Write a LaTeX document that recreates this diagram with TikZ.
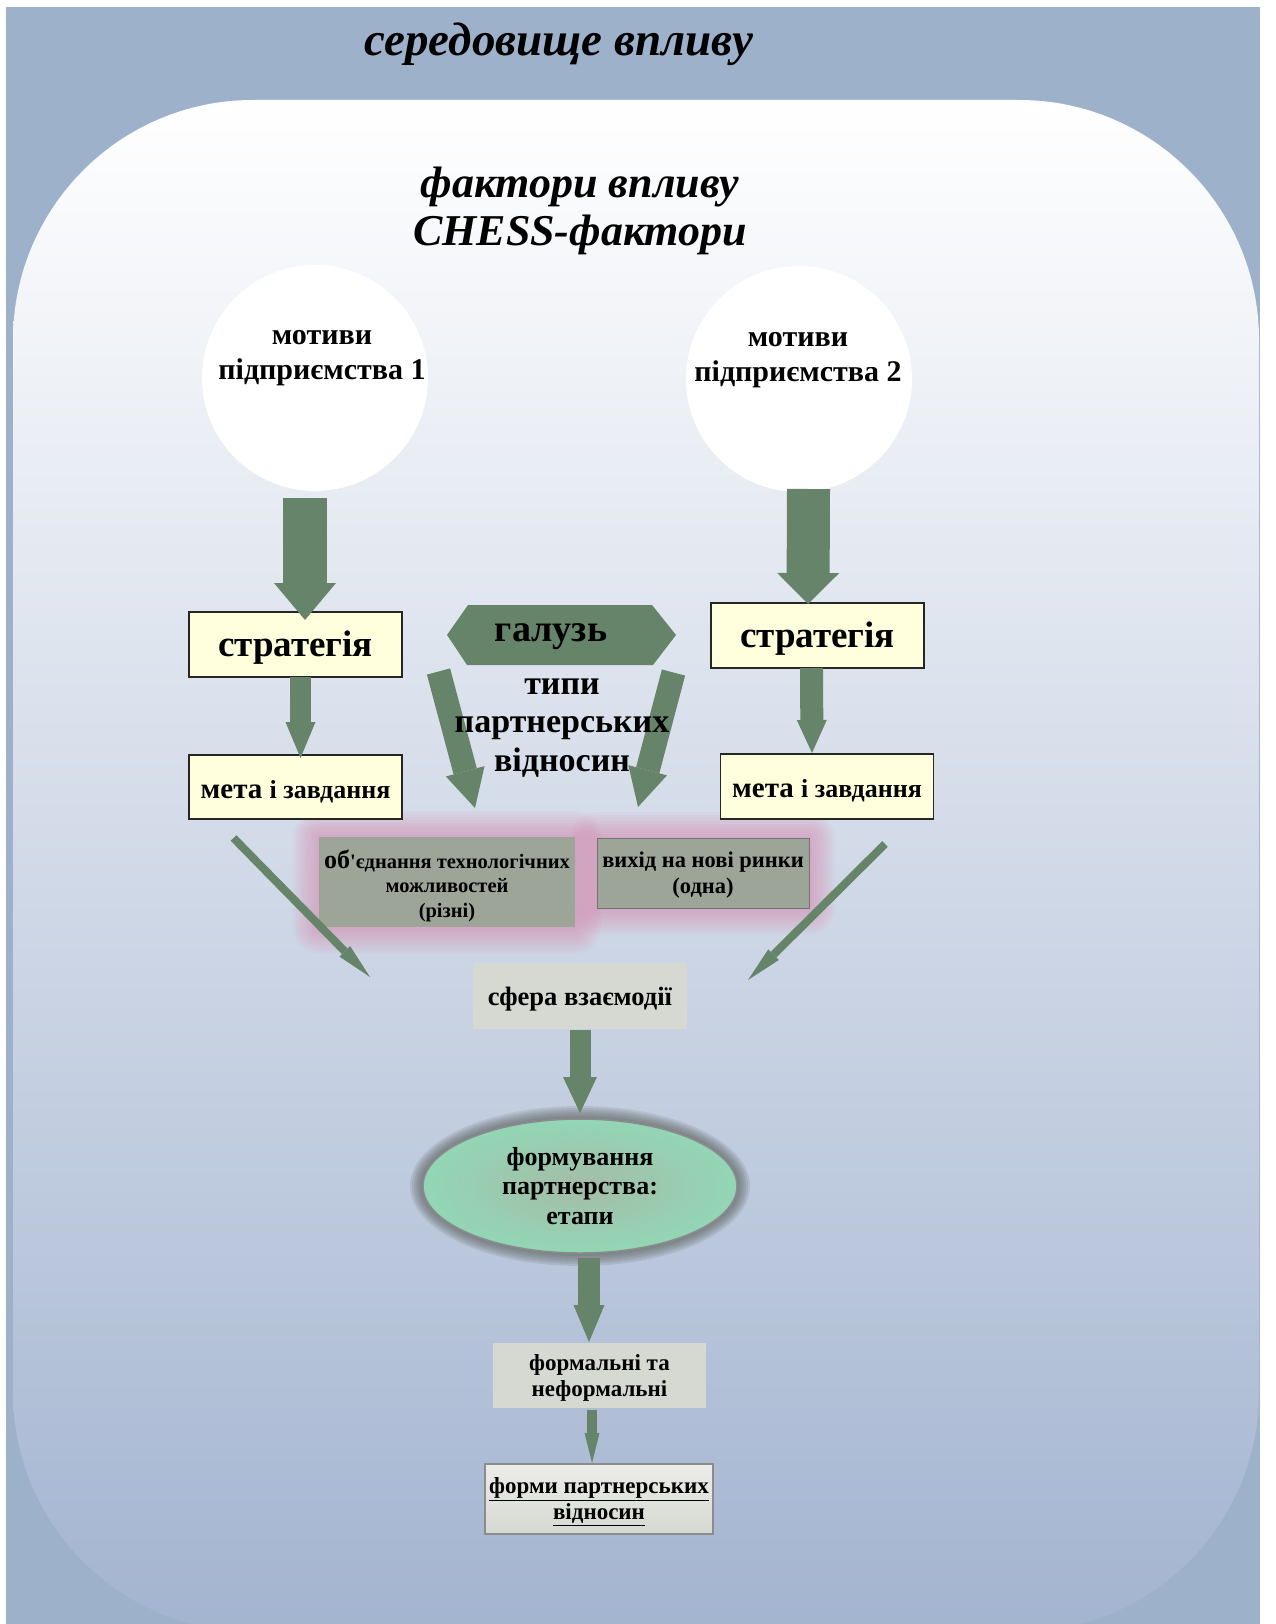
\documentclass[tikz,border=0pt]{standalone}
\usepackage{fontspec}
\setmainfont{Liberation Serif}
\usetikzlibrary{arrows.meta,calc,shapes.geometric}
\definecolor{bgblue}{RGB}{158,177,203}
\definecolor{innerbot}{RGB}{163,180,208}
\definecolor{agreen}{RGB}{102,132,106}
\definecolor{byellow}{RGB}{255,255,222}
\definecolor{bgray}{RGB}{157,164,152}
\definecolor{lgray}{RGB}{214,217,210}
\definecolor{lgraytop}{RGB}{236,237,233}
\definecolor{pinkglow}{RGB}{222,130,170}
\definecolor{mint}{RGB}{146,214,181}
\definecolor{mintc}{RGB}{165,188,168}
\definecolor{glowgray}{RGB}{90,95,90}
\pgfdeclarelayer{back}
\pgfdeclarelayer{glow}
\pgfsetlayers{back,glow,main}
\newcommand\glowbox[2]{%
  \foreach \r in {26,23,...,2}{%
    \fill[#2, opacity=0.075, rounded corners=\r pt] ($(#1.south west)+(-\r,\r)$) rectangle ($(#1.north east)+(\r,-\r)$);}}
\newcommand\dn[2]{\raisebox{-#1}[\height][\depth]{#2}}
\tikzset{
  barrow/.style n args={3}{draw=agreen, line width=#1,
    -{Triangle[width=#2, length=#3, line width=0pt, fill=agreen]}},
  ybox/.style={draw=black!85, line width=1.2pt, fill=byellow, minimum width=213pt, minimum height=65pt},
  gtxt/.style={align=center, font=\fontsize{20.5}{24.5}\selectfont\bfseries},
  lbox/.style={fill=lgray},
  bigtxt/.style={font=\fontsize{37}{42}\selectfont\bfseries},
  ctext/.style={font=\fontsize{30}{35}\selectfont\bfseries, align=center},
}
\newcommand\mfont{\fontsize{29}{32}\selectfont}
\newcommand\rfont{\fontsize{26}{32}\selectfont}
\begin{document}
\begin{tikzpicture}[x=1pt,y=-1pt, every node/.style={inner sep=0pt, outer sep=0pt}]
\useasboundingbox (0,0) rectangle (1275,1624);
\begin{pgfonlayer}{back}
  \fill[white] (0,0) rectangle (1275,1624);
  \fill[bgblue] (6,7) rectangle (1260,1624);
  \begin{scope}
    \clip (0,0) rectangle (1275,1624);
    \shade[top color=white, bottom color=innerbot, rounded corners=240pt] (13,100) rectangle (1259,1632);
  \end{scope}
\end{pgfonlayer}

% headings
\node[font=\fontsize{47}{52}\selectfont\bfseries\itshape, anchor=base] (env) at (559,56) {середовище впливу};
\node[font=\fontsize{44}{48}\selectfont\bfseries\itshape, align=center, anchor=base] (fact) at (580,245) {фактори впливу\\CHESS-фактори};

% circles
\node[circle, fill=white, minimum size=226pt] (c1) at (315,378) {};
\node[circle, fill=white, minimum size=226pt] (c2) at (799,379) {};
\node[ctext, anchor=base] (c1t) at (322,379) {мотиви\\підприємства 1};
\node[ctext, anchor=base] (c2t) at (798,381) {мотиви\\підприємства 2};

% strategy and goals boxes
\node[ybox, bigtxt] (s1) at (295.5,644.5) {\dn{3pt}{стратегія}};
\node[ybox, bigtxt] (s2) at (817.5,635.5) {\dn{3pt}{стратегія}};
\node[ybox, minimum height=64pt, font=\bfseries] (m1) at (295.5,787) {\dn{4.5pt}{\mfont мета \rfont і завдання}};
\node[ybox, font=\bfseries] (m2) at (827,786.5) {\dn{4.5pt}{\mfont мета \rfont і завдання}};

% industry hexagon
\node[minimum width=229pt, minimum height=60pt] (hex) at (561.5,635) {};
\fill[agreen] (hex.west) -- ($(hex.north west)+(21,0)$) -- ($(hex.north east)+(-24,0)$) -- (hex.east)
  -- ($(hex.south east)+(-23,0)$) -- ($(hex.south west)+(20,0)$) -- cycle;
\node[font=\fontsize{38}{40}\selectfont\bfseries, anchor=base] (galt) at (551,641) {галузь};

% gray boxes with glow
\node[fill=bgray, minimum width=256pt, minimum height=90pt] (ob) at (447,882) {};
\node[gtxt] (obt) at ($(ob.center)+(0,3.6)$)
  {{\fontsize{26}{24.5}\selectfont об}\textquotesingle єднання технологічних\\можливостей\\(різні)};
\node[fill=bgray, draw=black!55, line width=0.8pt, minimum width=212pt, minimum height=70pt] (vyh) at (703,873) {};
\node[gtxt, font=\fontsize{22.5}{26}\selectfont\bfseries] (vyht) at ($(vyh.center)+(0,2.5)$)
  {вихід на нові ринки\\(одна)};
\begin{pgfonlayer}{glow}
  \glowbox{ob}{pinkglow}
  \glowbox{vyh}{pinkglow}
\end{pgfonlayer}

% diagonal arrows from the hexagon (below the text)
\draw[barrow={24pt}{40pt}{38pt}] ($(hex.south west)+(-8.5,6.5)$) -- ($(ob.north)+(28,-29)$);
\draw[barrow={24pt}{40pt}{38pt}] ($(hex.south east)+(-2.5,7.5)$) -- ($(vyh.north)+(-65,-31)$);
\node[font=\fontsize{34}{38.5}\selectfont\bfseries, align=center, anchor=base] (types) at (562,771) {типи\\партнерських\\відносин};

% interaction sphere
\node[lbox, minimum width=214pt, minimum height=66pt, font=\fontsize{26.5}{30}\selectfont\bfseries] (sf) at (580,996) {\dn{3pt}{сфера взаємодії}};

% ellipse
\node[ellipse, minimum width=314pt, minimum height=134pt] (el) at (580,1186) {};
\begin{pgfonlayer}{glow}
  \foreach \r in {13,11,...,1}{\fill[glowgray, opacity=0.14] (el.center) ellipse [x radius=157+\r, y radius=67+\r];}
\end{pgfonlayer}
\shade[inner color=mintc, outer color=mint] (el.center) ellipse [x radius=157, y radius=67];
\draw[draw=black!45, line width=1.5pt] (el.center) ellipse [x radius=157, y radius=67];
\node[font=\fontsize{26}{29.5}\selectfont\bfseries, align=center, anchor=base] (elt) at (580,1224) {формування\\партнерства:\\етапи};

% formal / informal
\node[lbox, minimum width=213pt, minimum height=65pt] (fm) at (599.5,1375.5) {};
\node[gtxt, font=\fontsize{23}{26}\selectfont\bfseries] (fmt) at ($(fm.center)+(0,2)$) {формальні та\\неформальні};
\node[draw=black!45, line width=1.5pt, top color=lgraytop, bottom color=lgray, minimum width=228pt, minimum height=70pt] (fr) at (599,1499) {};
\node[gtxt, font=\fontsize{23}{26}\selectfont\bfseries] (frt) at ($(fr.center)+(0,2.5)$) {\underline{форми партнерських}\\\underline{відносин}};

% block arrows
\draw[barrow={44pt}{62pt}{37pt}] ($(c1.south)+(-10,7)$) -- ($(s1.north)+(9.5,8)$);
\draw[barrow={43pt}{62pt}{31pt}] ($(c2.south)+(9.5,-3)$) -- ($(s2.north)+(-9.5,1)$);
\draw[barrow={21pt}{30pt}{36pt}] ($(s1.south)+(5,0)$) -- ($(m1.north)+(5,3)$);
\draw[barrow={23pt}{30pt}{33pt}] ($(s2.south)+(-6,0)$) -- ($(m2.north)+(-15,-1)$);
\draw[barrow={8pt}{15pt}{36pt}] ($(m1.south)+(-62,19)$) -- ($(sf.west)+(-103,-19)$);
\draw[barrow={8pt}{15pt}{36pt}] ($(m2.south)+(58,25)$) -- ($(sf.east)+(61,-16)$);
\draw[barrow={21pt}{34pt}{36pt}] ($(sf.south)+(0,1)$) -- ($(el.north)+(0,-6)$);
\draw[barrow={22pt}{31pt}{37pt}] ($(el.south)+(9,5)$) -- ($(fm.north)+(-10.5,-1)$);
\draw[barrow={10pt}{15pt}{30pt}] ($(fm.south)+(-7.5,2)$) -- ($(fr.north)+(-7,-1)$);
\end{tikzpicture}
\end{document}
